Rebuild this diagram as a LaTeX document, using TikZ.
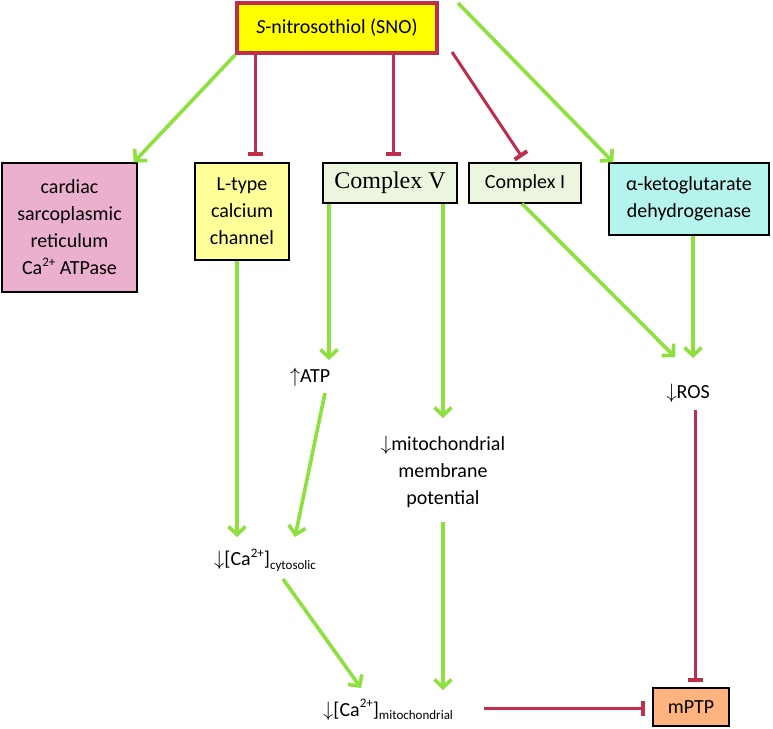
\documentclass[tikz,border=0pt]{standalone}
\usepackage{fontspec}
\setmainfont{Carlito}
\newfontfamily\serifcv{Liberation Serif}
\usetikzlibrary{arrows.meta}
\definecolor{lgreen}{RGB}{142,224,60}
\definecolor{inhred}{RGB}{192,46,78}
\definecolor{snofill}{RGB}{255,255,0}
\definecolor{cardfill}{RGB}{236,176,207}
\definecolor{ltfill}{RGB}{255,255,153}
\definecolor{cxfill}{RGB}{236,246,222}
\definecolor{akgfill}{RGB}{180,244,236}
\definecolor{mptpfill}{RGB}{255,180,128}
\tikzset{
  box/.style={draw=black, line width=1.3pt, inner sep=0pt, align=center},
  lbl/.style={inner sep=0pt, align=center},
  act/.style={draw=lgreen, line width=3.6pt, -{Straight Barb[length=8pt,width=17pt]}},
  inh/.style={draw=inhred, line width=3pt, -{Bar[width=15pt,line width=4pt]}},
}
\newcommand{\subtxt}[1]{\raisebox{-0.35ex}{\fontsize{13}{13}\selectfont #1}}
\newcommand{\suptxt}[1]{\raisebox{0.9ex}{\fontsize{13}{13}\selectfont #1}}
\begin{document}
\begin{tikzpicture}[x=1pt,y=-1pt,font=\fontsize{20}{27}\selectfont]
\useasboundingbox (0,0) rectangle (773,728);
% boxes
\node[box, fill=snofill, draw=inhred, line width=3.5pt, minimum width=200pt, minimum height=50pt] (sno) at (337,28) {\textit{S}-nitrosothiol (SNO)};
\node[box, fill=cardfill, minimum width=135pt, minimum height=129pt] (card) at (69.5,227.5) {cardiac\\sarcoplasmic\\reticulum\\Ca\suptxt{2+} ATPase};
\node[box, fill=ltfill, minimum width=94pt, minimum height=97pt] (ltype) at (242,211.5) {L-type\\calcium\\channel};
\node[box, fill=cxfill, minimum width=134pt, minimum height=40pt, font=\serifcv\fontsize{24}{28}\selectfont] (cv) at (390,183) {Complex V};
\node[box, fill=cxfill, minimum width=112pt, minimum height=40pt] (ci) at (525,183) {Complex I};
\node[box, fill=akgfill, minimum width=160pt, minimum height=72pt] (akg) at (689,199) {α-ketoglutarate\\dehydrogenase};
\node[box, fill=mptpfill, minimum width=76pt, minimum height=38pt] (mptp) at (691,707) {mPTP};
% text nodes
\node[lbl] (atp) at (310,377) {$\uparrow$ATP};
\node[lbl] (mmp) at (443,472) {$\downarrow$mitochondrial\\membrane\\potential};
\node[lbl] (cyt) at (265,560) {$\downarrow$[Ca\suptxt{2+}]\subtxt{cytosolic}};
\node[lbl] (mito) at (388,710) {$\downarrow$[Ca\suptxt{2+}]\subtxt{mitochondrial}};
\node[lbl] (ros) at (688,393) {$\downarrow$ROS};
% connector ends
\coordinate (xL) at (255,0);
\coordinate (xV) at (393,0);
\coordinate (sCI) at (452,52);
\coordinate (tCI) at (522,157);
\coordinate (sAK) at (458,3);
\coordinate (tATP) at (329,360);
\coordinate (tMMP) at (443,418);
\coordinate (tR1) at (675,357);
\coordinate (tR2) at (693,358);
\coordinate (tC1) at (237,537);
\coordinate (sATP) at (325,393);
\coordinate (tC2) at (295,537);
\coordinate (sMMP) at (443,522);
\coordinate (tM1) at (443,690);
\coordinate (sCYT) at (283,579);
\coordinate (tM2) at (361,688);
\coordinate (sROS) at (695,410);
\coordinate (sMITO) at (484,708);
% connectors
\draw[act] (sno.south west) -- ([xshift=-4pt]card.north east);
\draw[inh, shorten >=6pt] (xL |- sno.south) -- (xL |- ltype.north);
\draw[inh, shorten >=6pt] (xV |- sno.south) -- (xV |- cv.north);
\draw[inh] (sCI) -- (tCI);
\draw[act] (sAK) -- ([xshift=5pt]akg.north west);
\draw[act] (cv.south -| tATP) -- (tATP);
\draw[act] (cv.south -| tMMP) -- (tMMP);
\draw[act] ([xshift=-3pt]ci.south) -- (tR1);
\draw[act] (akg.south -| tR2) -- (tR2);
\draw[act] (ltype.south -| tC1) -- (tC1);
\draw[act] (sATP) -- (tC2);
\draw[act] (sMMP) -- (tM1);
\draw[act] (sCYT) -- (tM2);
\draw[inh, shorten >=5pt] (sROS) -- (sROS |- mptp.north);
\draw[inh, shorten >=7pt] (sMITO) -- (sMITO -| mptp.west);
\end{tikzpicture}
\end{document}
